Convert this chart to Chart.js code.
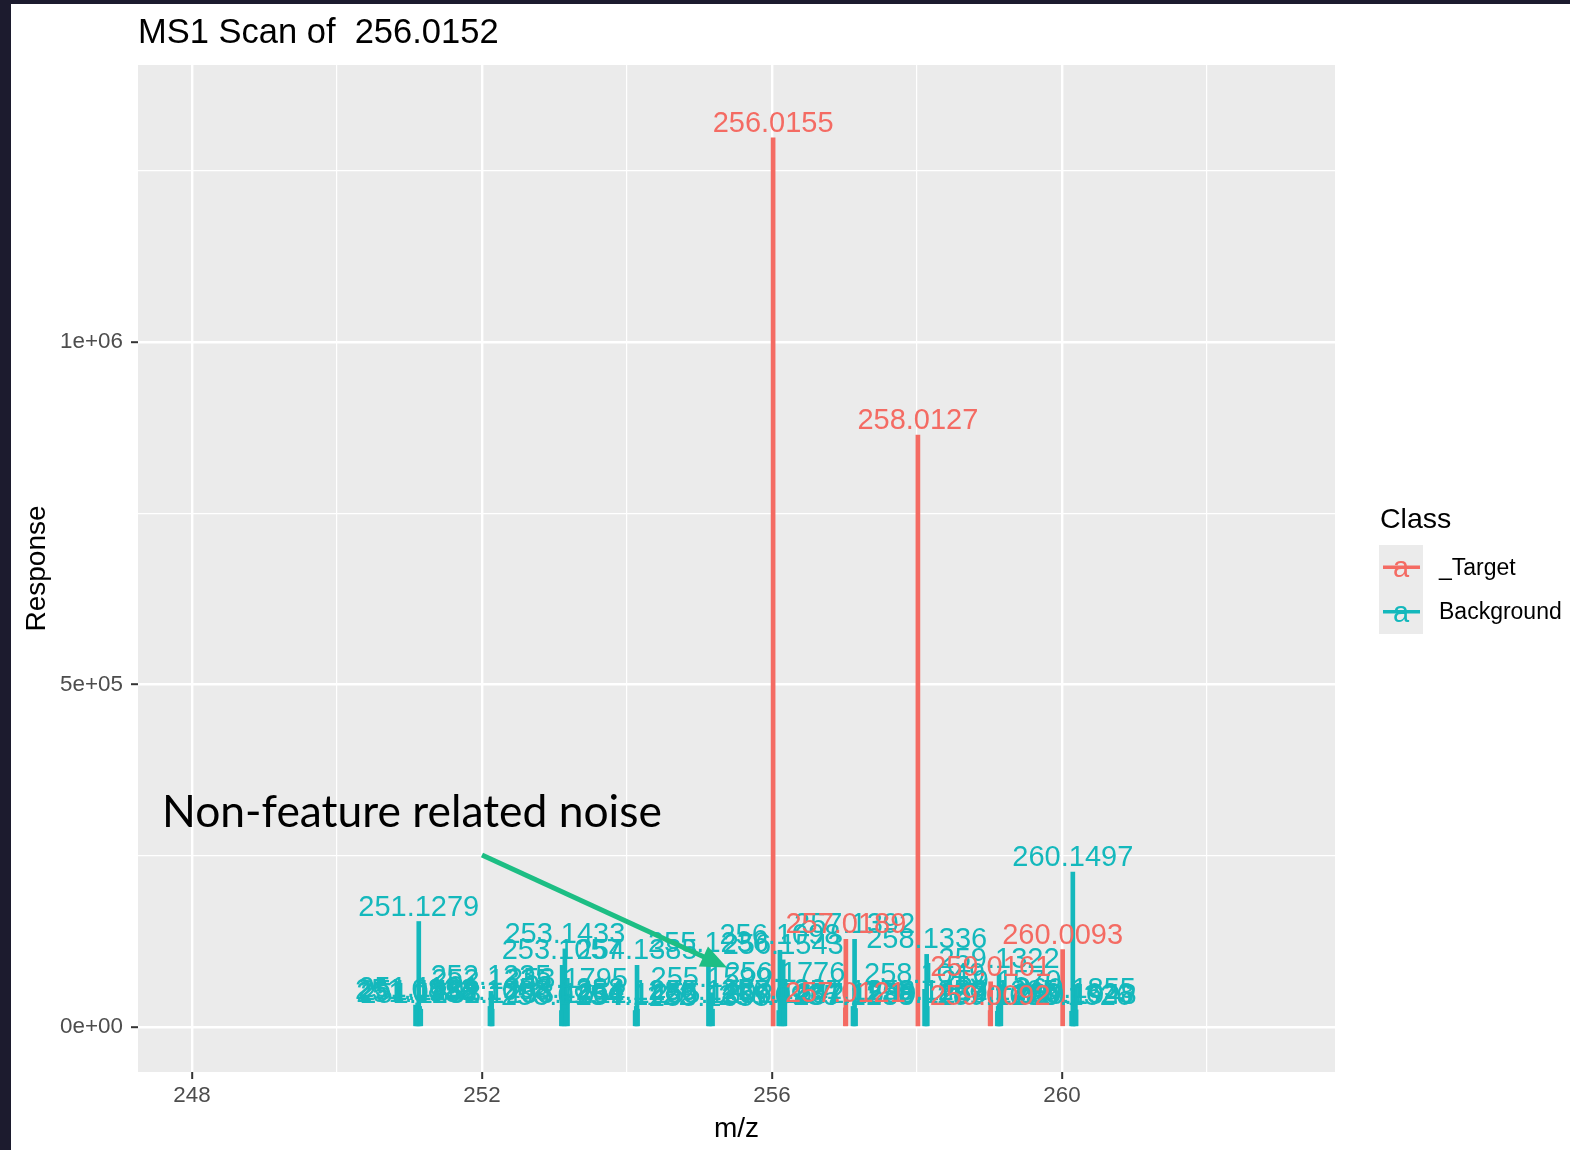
<!DOCTYPE html>
<html><head><meta charset="utf-8">
<script src="https://cdn.jsdelivr.net/npm/chart.js@4.4.1/dist/chart.umd.min.js"></script>
<style>html,body{margin:0;padding:0;background:#fff;overflow:hidden}#wrap{position:relative;width:1570px;height:1150px}</style>
</head><body><div id="wrap"><canvas id="c"></canvas></div>
<script>
// ---------- data ----------
const chartTitle = 'MS1 Scan of  256.0152';
const xAxisTitle = 'm/z';
const yAxisTitle = 'Response';
const legendTitle = 'Class';
const classNames = ['_Target', 'Background'];
const classColors = ['#F46B63', '#14B8BC'];

const targetMz = [256.0155, 257.0189, 257.0121, 258.0127, 259.0161, 259.0092, 260.0093];
const targetIntensity = [1298000, 128000, 28000, 864000, 66000, 24000, 113000];

const backgroundMz = [
  251.1279, 251.0832, 251.0986, 251.1124, 251.1402, 251.1553,
  252.1235, 252.1335, 252.1098, 252.1406,
  253.1433, 253.1057, 253.1795, 253.1288, 253.1612, 253.0954,
  254.1385, 254.1280, 254.1456, 254.1122,
  255.1236, 255.1599, 255.1427, 255.1802, 255.1355,
  256.1098, 256.1543, 256.1776, 256.1321, 256.1642, 256.0935,
  257.1392, 257.1176, 257.1530, 257.1288,
  258.1336, 258.1049, 258.1422, 258.1187,
  259.1322, 259.1570, 259.1205, 259.1436, 259.1088,
  260.1497, 260.1855, 260.1623, 260.1948, 260.1326
];
const backgroundIntensity = [
  154000, 32000, 28000, 35000, 30000, 26000,
  52000, 47000, 30000, 26000,
  114000, 90000, 48000, 33000, 27000, 24000,
  90000, 30000, 26000, 24000,
  100000, 50000, 30000, 26000, 22000,
  112000, 98000, 57000, 32000, 27000, 24000,
  128000, 30000, 27000, 24000,
  106000, 55000, 30000, 26000,
  77000, 45000, 30000, 26000, 23000,
  226000, 33000, 27000, 25000, 23000
];

const xMajorTicks = [248, 252, 256, 260];
const xMinorTicks = [250, 254, 258, 262];
const yMajorTicks = [0, 500000, 1000000];
const yTickLabels = ['0e+00', '5e+05', '1e+06'];
const yMinorTicks = [250000, 750000, 1250000];
const xRange = [247.255, 263.766];
const yRange = [-65700, 1404400];

const annotationText = 'Non-feature related noise';
const annotationAt = {x: 247.586, y: 292000};
const arrowFrom = {x: 252.0, y: 251000};
const arrowTo = {x: 255.38, y: 87000};

// ---------- styles ----------
const SANS = '"Liberation Sans", Arial, Helvetica, sans-serif';
const PANEL_BG = '#EBEBEB';

const bgPlugin = {
  id: 'bg',
  beforeDraw(chart) {
    const {ctx, chartArea: a} = chart;
    ctx.save();
    ctx.fillStyle = '#ffffff';
    ctx.fillRect(0, 0, chart.width, chart.height);
    ctx.fillStyle = '#1C1B2E';
    ctx.fillRect(0, 0, 11, chart.height);
    ctx.fillRect(0, 0, chart.width, 4);
    ctx.fillStyle = PANEL_BG;
    ctx.fillRect(a.left, a.top, a.right - a.left, a.bottom - a.top);
    ctx.restore();
  }
};

const labelPlugin = {
  id: 'peakLabels',
  afterDatasetsDraw(chart) {
    const ctx = chart.ctx;
    ctx.save();
    ctx.font = '29px ' + SANS;
    ctx.textAlign = 'center';
    ctx.textBaseline = 'alphabetic';
    [1, 0].forEach(di => {
      const meta = chart.getDatasetMeta(di);
      const ds = chart.data.datasets[di];
      ctx.fillStyle = ds.backgroundColor;
      meta.data.forEach((el, j) => {
        ctx.fillText(ds.labelsText[j], el.x, el.y - 6);
      });
    });
    ctx.restore();
  }
};

const decorPlugin = {
  id: 'decor',
  afterDraw(chart) {
    const {ctx, chartArea: a, scales: {x, y}} = chart;
    ctx.save();
    ctx.fillStyle = '#000';
    ctx.font = '34.5px ' + SANS;
    ctx.textAlign = 'left';
    ctx.textBaseline = 'alphabetic';
    ctx.fillText(chartTitle, a.left, 43);

    const lx = a.right + 44;
    ctx.font = '28.5px ' + SANS;
    ctx.fillText(legendTitle, lx + 1, 528);
    const keyTop = 545, keyH = 44.5, keyW = 44;
    ctx.fillStyle = PANEL_BG;
    ctx.fillRect(lx, keyTop, keyW, keyH * classNames.length);
    classNames.forEach((nm, i) => {
      const cy = keyTop + keyH * i + keyH / 2;
      ctx.strokeStyle = classColors[i];
      ctx.lineWidth = 3.5;
      ctx.beginPath();
      ctx.moveTo(lx + 4, cy); ctx.lineTo(lx + keyW - 3, cy);
      ctx.stroke();
      ctx.fillStyle = classColors[i];
      ctx.font = '29px ' + SANS;
      ctx.textAlign = 'center';
      ctx.textBaseline = 'alphabetic';
      ctx.fillText('a', lx + keyW / 2, cy + 10);
      ctx.fillStyle = '#000';
      ctx.font = '23px ' + SANS;
      ctx.textAlign = 'left';
      ctx.textBaseline = 'middle';
      ctx.fillText(nm, lx + keyW + 16, cy + 1);
    });

    const annFont = (s) => s + 'px Lato, "Open Sans", sans-serif';
    ctx.font = annFont(46);
    const w = ctx.measureText(annotationText).width;
    const fs = 46 * 500 / w;
    ctx.font = annFont(fs);
    ctx.fillStyle = '#000';
    ctx.textAlign = 'left';
    ctx.textBaseline = 'alphabetic';
    ctx.fillText(annotationText, x.getPixelForValue(annotationAt.x), y.getPixelForValue(annotationAt.y));

    const x0 = x.getPixelForValue(arrowFrom.x), y0 = y.getPixelForValue(arrowFrom.y);
    const x1 = x.getPixelForValue(arrowTo.x), y1 = y.getPixelForValue(arrowTo.y);
    const ang = Math.atan2(y1 - y0, x1 - x0);
    const headL = 26, headW = 11;
    const bx = x1 - headL * Math.cos(ang), by = y1 - headL * Math.sin(ang);
    ctx.strokeStyle = '#1DBE84';
    ctx.fillStyle = '#1DBE84';
    ctx.lineWidth = 5;
    ctx.lineCap = 'butt';
    ctx.beginPath();
    ctx.moveTo(x0, y0); ctx.lineTo(bx + 2 * Math.cos(ang), by + 2 * Math.sin(ang));
    ctx.stroke();
    ctx.beginPath();
    ctx.moveTo(x1, y1);
    ctx.lineTo(bx + headW * Math.sin(ang), by - headW * Math.cos(ang));
    ctx.lineTo(bx - headW * Math.sin(ang), by + headW * Math.cos(ang));
    ctx.closePath();
    ctx.fill();
    ctx.restore();
  }
};

const toPoints = (mz, inten) => mz.map((m, i) => ({x: m, y: inten[i]}));
const isMajorX = c => !!(c && c.tick && xMajorTicks.includes(c.tick.value));
const isMajorY = c => !!(c && c.tick && yMajorTicks.includes(c.tick.value));

new Chart(document.getElementById('c'), {
  type: 'bar',
  data: {
    datasets: [
      {label: classNames[0], data: toPoints(targetMz, targetIntensity), labelsText: targetMz.map(v => v.toFixed(4)),
       backgroundColor: classColors[0], barThickness: 4, grouped: false, borderWidth: 0},
      {label: classNames[1], data: toPoints(backgroundMz, backgroundIntensity), labelsText: backgroundMz.map(v => v.toFixed(4)),
       backgroundColor: classColors[1], barThickness: 4, grouped: false, borderWidth: 0}
    ]
  },
  options: {
    responsive: true,
    maintainAspectRatio: false,
    animation: false,
    devicePixelRatio: 1,
    layout: {padding: {left: 0, top: 65, right: 235, bottom: 0}},
    plugins: {legend: {display: false}, title: {display: false}, tooltip: {enabled: false}},
    scales: {
      x: {
        type: 'linear', min: xRange[0], max: xRange[1], offset: false,
        afterBuildTicks: s => { s.ticks = [...xMajorTicks, ...xMinorTicks].sort((a, b) => a - b).map(v => ({value: v})); },
        afterFit: s => { s.height = 78; },
        border: {display: false},
        grid: {
          offset: false,
          color: '#FFFFFF',
          lineWidth: c => isMajorX(c) ? 2.4 : 1.2,
          tickLength: 7,
          tickColor: c => isMajorX(c) ? '#333333' : 'rgba(0,0,0,0)',
          tickWidth: 2
        },
        ticks: {
          autoSkip: false, maxRotation: 0, padding: 3,
          color: '#4D4D4D', font: {family: SANS, size: 22.4},
          callback: v => xMajorTicks.includes(v) ? String(v) : ''
        },
        title: {display: true, text: xAxisTitle, color: '#000', font: {family: SANS, size: 28}, padding: {top: 0, bottom: 4}}
      },
      y: {
        type: 'linear', min: yRange[0], max: yRange[1],
        afterBuildTicks: s => { s.ticks = [...yMajorTicks, ...yMinorTicks].sort((a, b) => a - b).map(v => ({value: v})); },
        afterFit: s => { s.width = 138; },
        border: {display: false},
        grid: {
          offset: false,
          color: '#FFFFFF',
          lineWidth: c => isMajorY(c) ? 2.4 : 1.2,
          tickLength: 7,
          tickColor: c => isMajorY(c) ? '#333333' : 'rgba(0,0,0,0)',
          tickWidth: 2
        },
        ticks: {
          autoSkip: false, padding: 8,
          color: '#4D4D4D', font: {family: SANS, size: 22.4},
          callback: v => { const i = yMajorTicks.indexOf(v); return i >= 0 ? yTickLabels[i] : ''; }
        },
        title: {display: true, text: yAxisTitle, color: '#000', font: {family: SANS, size: 28}, padding: {top: 20, bottom: 0}}
      }
    }
  },
  plugins: [bgPlugin, labelPlugin, decorPlugin]
});
</script>
</body></html>
